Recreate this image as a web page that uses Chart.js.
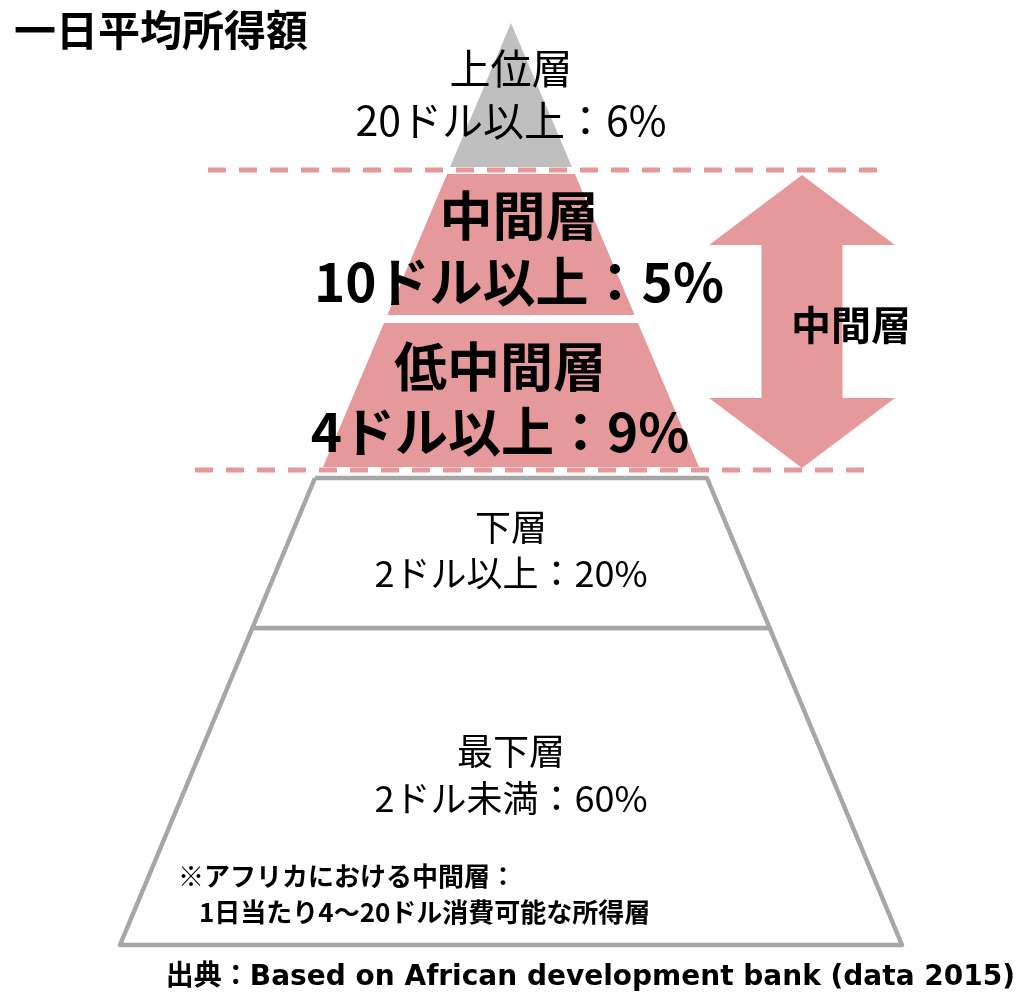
<!DOCTYPE html>
<html lang="ja">
<head>
<meta charset="UTF-8">
<title>一日平均所得額</title>
<script src="https://cdn.jsdelivr.net/npm/chart.js"></script>
<style>
  html, body { margin: 0; padding: 0; background: #fff; }
  .wrap { position: relative; width: 1031px; height: 998px; }
</style>
</head>
<body>
<div class="wrap"><canvas id="pyramid"></canvas></div>
<script>
// --- data ---
const tierNames = ['上位層', '中間層', '低中間層', '下層', '最下層'];
const tierRanges = ['20ドル以上', '10ドル以上', '4ドル以上', '2ドル以上', '2ドル未満'];
const tierShares = [6, 5, 9, 20, 60];
const sideLabel = '中間層';
const titleText = '一日平均所得額';
const noteLines = ['※アフリカにおける中間層：', '1日当たり4～20ドル消費可能な所得層'];
const sourceText = '出典：Based on African development bank (data 2015)';

// --- layout (canvas units, y grows downward) ---
const centerX = 511;
const outlines = {
    upper: { y0: 23, half0: 0, slope: 0.4234 },
    lower: { y0: 478, half0: 196, slope: 0.4176 }
};
const bands = [
    { top: 23, bottom: 167, outline: 'upper' },
    { top: 174, bottom: 315, outline: 'upper' },
    { top: 323, bottom: 467, outline: 'upper' },
    { top: 478, bottom: 628, outline: 'lower' },
    { top: 628, bottom: 945, outline: 'lower' }
];
const tierFill = ['#BFBFBF', '#E6999A', '#E6999A', '#FFFFFF', '#FFFFFF'];
const tierBorder = [null, null, null, '#A6A6A6', '#A6A6A6'];
const labelPos = [
    { x: 511, nameY: 68, valueY: 120, size: 41, bold: false },
    { x: 519, nameY: 216, valueY: 282, size: 53, bold: true },
    { x: 500, nameY: 367, valueY: 432, size: 53, bold: true },
    { x: 511, nameY: 527, valueY: 573, size: 36, bold: false },
    { x: 511, nameY: 751, valueY: 798, size: 36, bold: false }
];
const dashLines = [
    { y: 170, from: 208, to: 884 },
    { y: 470, from: 195, to: 870 }
];
const arrow = { x: 802, top: 175, bottom: 468, headHalf: 93, shaftHalf: 40.5, headLen: 70 };

const pink = '#E6999A';
const JP = "'Noto Sans CJK JP', sans-serif";

function halfWidth(name, yv) {
    const o = outlines[name];
    return o.half0 + (yv - o.y0) * o.slope;
}

function bandPolygon(b) {
    const ht = halfWidth(b.outline, b.top);
    const hb = halfWidth(b.outline, b.bottom);
    return [
        { x: centerX - ht, y: b.top },
        { x: centerX + ht, y: b.top },
        { x: centerX + hb, y: b.bottom },
        { x: centerX - hb, y: b.bottom },
        { x: centerX - ht, y: b.top }
    ];
}

function arrowPolygon(a) {
    const hTop = a.top + a.headLen, hBot = a.bottom - a.headLen;
    return [
        { x: a.x, y: a.top },
        { x: a.x + a.headHalf, y: hTop },
        { x: a.x + a.shaftHalf, y: hTop },
        { x: a.x + a.shaftHalf, y: hBot },
        { x: a.x + a.headHalf, y: hBot },
        { x: a.x, y: a.bottom },
        { x: a.x - a.headHalf, y: hBot },
        { x: a.x - a.shaftHalf, y: hBot },
        { x: a.x - a.shaftHalf, y: hTop },
        { x: a.x - a.headHalf, y: hTop },
        { x: a.x, y: a.top }
    ];
}

const datasets = [];

// dashed guide lines on top
dashLines.forEach(d => {
    datasets.push({
        data: [{ x: d.from, y: d.y }, { x: d.to, y: d.y }],
        borderColor: pink,
        borderWidth: 5,
        borderDash: [18, 13],
        fill: false
    });
});

datasets.push({
    data: arrowPolygon(arrow),
    backgroundColor: pink,
    borderWidth: 0,
    fill: 'shape'
});

tierNames.forEach((n, i) => {
    datasets.push({
        label: n,
        data: bandPolygon(bands[i]),
        backgroundColor: tierFill[i],
        borderColor: tierBorder[i] || 'rgba(0,0,0,0)',
        borderWidth: tierBorder[i] ? 4.5 : 0,
        borderJoinStyle: 'round',
        fill: 'shape'
    });
});

const labelPlugin = {
    id: 'pyramidLabels',
    afterDatasetsDraw(chart) {
        const { ctx, scales: { x, y } } = chart;
        const put = (text, xv, yv, size, bold, align, family) => {
            ctx.font = (bold ? 'bold ' : '') + size + 'px ' + (family || JP);
            ctx.textAlign = align || 'center';
            ctx.textBaseline = 'middle';
            ctx.fillStyle = '#000';
            ctx.fillText(text, x.getPixelForValue(xv), y.getPixelForValue(yv));
        };
        ctx.save();
        put(titleText, 14, 30, 42, true, 'left');
        tierNames.forEach((n, i) => {
            const p = labelPos[i];
            put(n, p.x, p.nameY, p.size, p.bold);
            put(tierRanges[i] + '：' + tierShares[i] + '%', p.x, p.valueY, p.size, p.bold);
        });
        put(sideLabel, 851, 325, 40, true);
        put(noteLines[0], 178, 876, 26, true, 'left');
        put(noteLines[1], 199, 912, 26, true, 'left');
        put(sourceText, 1015, 978, 28, true, 'right', "'DejaVu Sans', 'Noto Sans CJK JP', sans-serif");
        ctx.restore();
    }
};

new Chart(document.getElementById('pyramid'), {
    type: 'line',
    data: { datasets },
    options: {
        responsive: true,
        maintainAspectRatio: false,
        animation: false,
        layout: { padding: 0 },
        elements: { point: { radius: 0, hoverRadius: 0 }, line: { tension: 0 } },
        scales: {
            x: { type: 'linear', min: 0, max: 1031, display: false },
            y: { type: 'linear', min: 0, max: 998, reverse: true, display: false }
        },
        plugins: {
            legend: { display: false },
            tooltip: { enabled: false }
        }
    },
    plugins: [labelPlugin]
});
</script>
</body>
</html>
